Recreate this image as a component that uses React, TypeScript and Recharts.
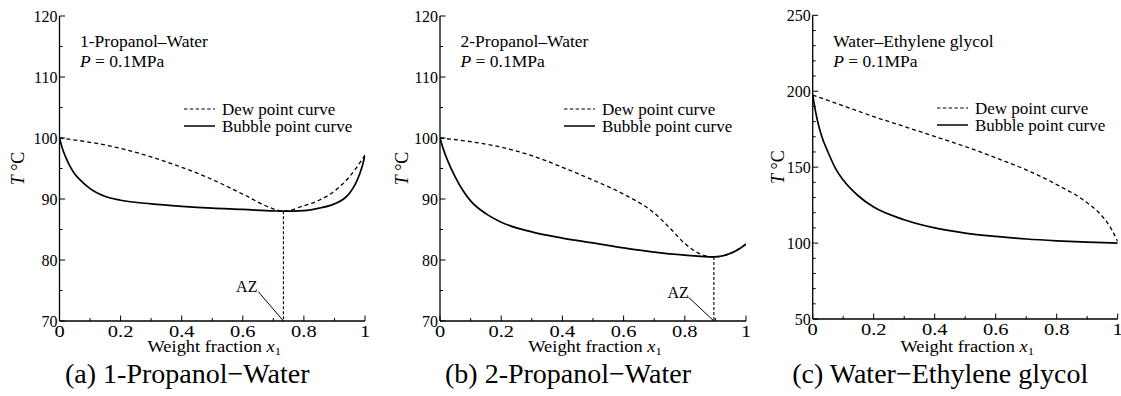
import React from 'react';
import { LineChart, Line, XAxis, YAxis, ReferenceLine, ReferenceDot, Legend } from 'recharts';

const FONT = '"Liberation Serif", "Times New Roman", serif';

// ---- ticks ----
const X_TICKS = [0, 0.1, 0.2, 0.3, 0.4, 0.5, 0.6, 0.7, 0.8, 0.9, 1];
const Y_TICKS_PROPANOL = [70, 75, 80, 85, 90, 95, 100, 105, 110, 115, 120];
const Y_TICKS_GLYCOL = [50, 60, 70, 80, 90, 100, 110, 120, 130, 140, 150, 160, 170, 180, 190, 200, 210, 220, 230, 240, 250];

// ---- (a) 1-Propanol–Water ----
const A_BUBBLE = [
  { x: 0, T: 100 }, { x: 0.01, T: 98.2 }, { x: 0.02, T: 96.9 }, { x: 0.035, T: 95.3 },
  { x: 0.05, T: 94.1 }, { x: 0.07, T: 93.0 }, { x: 0.1, T: 91.7 }, { x: 0.15, T: 90.4 },
  { x: 0.2, T: 89.8 }, { x: 0.3, T: 89.2 }, { x: 0.4, T: 88.8 }, { x: 0.5, T: 88.5 },
  { x: 0.6, T: 88.3 }, { x: 0.7, T: 88.05 }, { x: 0.733, T: 88.0 }, { x: 0.8, T: 88.1 },
  { x: 0.85, T: 88.5 }, { x: 0.9, T: 89.2 }, { x: 0.93, T: 90.0 }, { x: 0.95, T: 91.0 },
  { x: 0.97, T: 92.6 }, { x: 0.99, T: 95.2 }, { x: 1, T: 97.2 },
];
const A_DEW = [
  { x: 0, T: 100 }, { x: 0.1, T: 99.3 }, { x: 0.2, T: 98.3 }, { x: 0.3, T: 96.9 },
  { x: 0.4, T: 95.2 }, { x: 0.5, T: 93.2 }, { x: 0.6, T: 90.8 }, { x: 0.7, T: 88.4 },
  { x: 0.733, T: 88.0 }, { x: 0.8, T: 88.9 }, { x: 0.85, T: 89.8 }, { x: 0.9, T: 91.3 },
  { x: 0.95, T: 93.7 }, { x: 1, T: 97.2 },
];
const A_AZ = { x: 0.733, T: 88.0, labelX: 0.613, labelT: 75.7, leaderX: 0.651, leaderT: 74.8 };

// ---- (b) 2-Propanol–Water ----
const B_BUBBLE = [
  { x: 0, T: 100 }, { x: 0.01, T: 98.3 }, { x: 0.025, T: 96.3 }, { x: 0.05, T: 93.6 },
  { x: 0.075, T: 91.4 }, { x: 0.1, T: 89.7 }, { x: 0.15, T: 87.6 }, { x: 0.2, T: 86.2 },
  { x: 0.3, T: 84.6 }, { x: 0.4, T: 83.6 }, { x: 0.5, T: 82.8 }, { x: 0.6, T: 82.0 },
  { x: 0.7, T: 81.3 }, { x: 0.8, T: 80.8 }, { x: 0.895, T: 80.5 }, { x: 0.95, T: 81.1 },
  { x: 0.98, T: 81.9 }, { x: 1, T: 82.6 },
];
const B_DEW = [
  { x: 0, T: 100 }, { x: 0.1, T: 99.4 }, { x: 0.2, T: 98.5 }, { x: 0.3, T: 97.1 },
  { x: 0.4, T: 95.2 }, { x: 0.5, T: 93.1 }, { x: 0.6, T: 90.8 }, { x: 0.7, T: 87.7 },
  { x: 0.75, T: 85.3 }, { x: 0.8, T: 82.7 }, { x: 0.85, T: 81.0 }, { x: 0.895, T: 80.5 },
  { x: 0.95, T: 81.1 }, { x: 0.98, T: 81.9 }, { x: 1, T: 82.6 },
];
const B_AZ = { x: 0.895, T: 80.5, labelX: 0.778, labelT: 74.7, leaderX: 0.812, leaderT: 73.9 };

// ---- (c) Water–Ethylene glycol ----
const C_BUBBLE = [
  { x: 0, T: 197.5 }, { x: 0.01, T: 186 }, { x: 0.02, T: 177 }, { x: 0.03, T: 170 },
  { x: 0.05, T: 160 }, { x: 0.075, T: 149 }, { x: 0.1, T: 141.5 }, { x: 0.15, T: 131 },
  { x: 0.2, T: 123.7 }, { x: 0.3, T: 115.4 }, { x: 0.4, T: 110 }, { x: 0.5, T: 106.6 },
  { x: 0.6, T: 104.4 }, { x: 0.7, T: 102.7 }, { x: 0.8, T: 101.5 }, { x: 0.9, T: 100.6 },
  { x: 1, T: 100 },
];
const C_DEW = [
  { x: 0, T: 197.5 }, { x: 0.1, T: 190.4 }, { x: 0.2, T: 183.3 }, { x: 0.3, T: 176.8 },
  { x: 0.4, T: 170.2 }, { x: 0.5, T: 163.6 }, { x: 0.6, T: 156.2 }, { x: 0.7, T: 148.2 },
  { x: 0.8, T: 138.5 }, { x: 0.9, T: 126.5 }, { x: 0.95, T: 117.5 }, { x: 0.98, T: 109 },
  { x: 1, T: 101 },
];

const LEGEND_LABELS = ['Dew point curve', 'Bubble point curve'];

type Pt = { x: number; T: number };
type AZ = { x: number; T: number; labelX: number; labelT: number; leaderX: number; leaderT: number };
type Panel = {
  left: number; width: number; plotLeft: number; plotRight: number; plotTop: number; plotBottom: number;
  yDomain: [number, number]; yTicks: number[]; yMajor: number;
  bubble: Pt[]; dew: Pt[]; az?: AZ;
  system: string; caption: string; yTitleX: number;
};

const PANELS: Panel[] = [
  {
    left: 0, width: 375, plotLeft: 59.5, plotRight: 365, plotTop: 16, plotBottom: 321,
    yDomain: [70, 120], yTicks: Y_TICKS_PROPANOL, yMajor: 10,
    bubble: A_BUBBLE, dew: A_DEW, az: A_AZ,
    system: '1-Propanol\u2013Water', caption: '(a) 1-Propanol\u2212Water', yTitleX: 18,
  },
  {
    left: 375, width: 375, plotLeft: 440, plotRight: 746, plotTop: 16, plotBottom: 321,
    yDomain: [70, 120], yTicks: Y_TICKS_PROPANOL, yMajor: 10,
    bubble: B_BUBBLE, dew: B_DEW, az: B_AZ,
    system: '2-Propanol\u2013Water', caption: '(b) 2-Propanol\u2212Water', yTitleX: 401.5,
  },
  {
    left: 750, width: 371, plotLeft: 812.7, plotRight: 1117.7, plotTop: 15.3, plotBottom: 319,
    yDomain: [50, 250], yTicks: Y_TICKS_GLYCOL, yMajor: 50,
    bubble: C_BUBBLE, dew: C_DEW,
    system: 'Water\u2013Ethylene glycol', caption: '(c) Water\u2212Ethylene glycol', yTitleX: 778,
  },
];

const Y_AXIS_W = 40;
const X_AXIS_H = 30;

const fmtX = (v: number) => (v === 0 ? '0' : v === 1 ? '1' : v.toFixed(1));

function makeTick(side: 'bottom' | 'top' | 'left' | 'right', isMajor: (v: number) => boolean, showLabel: boolean, fmt: (v: number) => string) {
  return (props: any) => {
    const { x, y, payload } = props;
    const v = payload.value as number;
    const major = isMajor(v);
    const L = major ? 5.5 : 3;
    let x2 = x, y2 = y;
    if (side === 'bottom') y2 = y - L;
    if (side === 'top') y2 = y + L;
    if (side === 'left') x2 = x + L;
    if (side === 'right') x2 = x - L;
    return (
      <g>
        <line x1={x} y1={y} x2={x2} y2={y2} stroke="#000" strokeWidth={1} />
        {showLabel && major && side === 'bottom' && (
          <text transform={`translate(${x}, ${y + 15.5}) scale(1.28, 1)`} textAnchor="middle" fontFamily={FONT} fontSize={16} fill="#000">{fmt(v)}</text>
        )}
        {showLabel && major && side === 'left' && (
          <text x={x - 2} y={y + 5.5} textAnchor="end" fontFamily={FONT} fontSize={16} fill="#000">{fmt(v)}</text>
        )}
      </g>
    );
  };
}

const xMajor = (v: number) => Math.round(v * 10) % 2 === 0;

const LegendContent = () => (
  <svg width={180} height={36} style={{ display: 'block', overflow: 'visible' }}>
    <line x1={0} x2={31} y1={8} y2={8} stroke="#000" strokeWidth={1.1} strokeDasharray="3.5 2.3" />
    <text x={38} y={14} fontFamily={FONT} fontSize={17} fill="#000">{LEGEND_LABELS[0]}</text>
    <line x1={0} x2={31} y1={25} y2={25} stroke="#000" strokeWidth={1.5} />
    <text x={38} y={31} fontFamily={FONT} fontSize={17} fill="#000">{LEGEND_LABELS[1]}</text>
  </svg>
);

function PanelChart({ p }: { p: Panel }) {
  const relLeft = p.plotLeft - p.left;
  const relRight = p.plotRight - p.left;
  const margin = {
    top: p.plotTop,
    right: p.width - relRight,
    bottom: 396 - p.plotBottom - X_AXIS_H,
    left: relLeft - Y_AXIS_W,
  };
  const yMajor = (v: number) => v % p.yMajor === 0;
  const fmtY = (v: number) => String(v);
  const plotCx = (relLeft + relRight) / 2;
  const plotCy = (p.plotTop + p.plotBottom) / 2;
  return (
    <div style={{ position: 'absolute', left: p.left, top: 0, width: p.width, height: 396 }}>
      <LineChart width={p.width} height={396} margin={margin}>
        <XAxis xAxisId="b" dataKey="x" type="number" domain={[0, 1]} ticks={X_TICKS} interval={0}
          orientation="bottom" height={X_AXIS_H} tickSize={0} tickMargin={0} tickLine={false}
          axisLine={{ stroke: '#000', strokeWidth: 1.3 }} allowDataOverflow
          tick={makeTick('bottom', xMajor, true, fmtX)} />
        <XAxis xAxisId="t" dataKey="x" type="number" domain={[0, 1]} ticks={X_TICKS} interval={0}
          orientation="top" height={0} tickSize={0} tickMargin={0} tickLine={false}
          axisLine={{ stroke: '#000', strokeWidth: 1.3 }} allowDataOverflow
          tick={makeTick('top', xMajor, false, fmtX)} />
        <YAxis yAxisId="l" type="number" domain={p.yDomain} ticks={p.yTicks} interval={0}
          orientation="left" width={Y_AXIS_W} tickSize={0} tickMargin={0} tickLine={false}
          axisLine={{ stroke: '#000', strokeWidth: 1.3 }} allowDataOverflow
          tick={makeTick('left', yMajor, true, fmtY)} />
        <YAxis yAxisId="r" type="number" domain={p.yDomain} ticks={p.yTicks} interval={0}
          orientation="right" width={0} tickSize={0} tickMargin={0} tickLine={false}
          axisLine={{ stroke: '#000', strokeWidth: 1.3 }} allowDataOverflow
          tick={makeTick('right', yMajor, false, fmtY)} />
        <Line xAxisId="b" yAxisId="l" data={p.dew} dataKey="T" type="monotone" stroke="#000"
          strokeWidth={1.3} strokeDasharray="4 3" dot={false} activeDot={false} isAnimationActive={false} />
        <Line xAxisId="b" yAxisId="l" data={p.bubble} dataKey="T" type="monotone" stroke="#000"
          strokeWidth={1.7} dot={false} activeDot={false} isAnimationActive={false} />
        {p.az && (
          <ReferenceLine xAxisId="b" yAxisId="l" segment={[{ x: p.az.x, y: p.az.T }, { x: p.az.x, y: p.yDomain[0] }]}
            stroke="#000" strokeWidth={1.1} strokeDasharray="3 2" ifOverflow="visible" />
        )}
        {p.az && (
          <ReferenceLine xAxisId="b" yAxisId="l" segment={[{ x: p.az.leaderX, y: p.az.leaderT }, { x: p.az.x, y: p.yDomain[0] }]}
            stroke="#000" strokeWidth={1} ifOverflow="visible" />
        )}
        {p.az && (
          <ReferenceDot xAxisId="b" yAxisId="l" x={p.az.labelX} y={p.az.labelT} r={0} fill="none" stroke="none"
            ifOverflow="visible"
            label={{ value: 'AZ', position: 'center', fill: '#000', fontSize: 16, fontFamily: FONT }} />
        )}
        <Legend layout="vertical" align="center" verticalAlign="middle" content={<LegendContent />}
          wrapperStyle={{ position: 'absolute', left: relLeft + 124, top: p.plotTop + 85, width: 180, height: 36 }} />
      </LineChart>
      <svg width={p.width} height={396} style={{ position: 'absolute', left: 0, top: 0, pointerEvents: 'none', overflow: 'visible' }}>
        <text x={relLeft + 20.5} y={47} fontFamily={FONT} fontSize={17.5} fill="#000">{p.system}</text>
        <text x={relLeft + 20.5} y={67} fontFamily={FONT} fontSize={17.5} fill="#000">
          <tspan fontStyle="italic">P</tspan> = 0.1MPa
        </text>
        <text transform={`translate(${p.yTitleX - p.left}, ${plotCy}) rotate(-90)`} textAnchor="middle" dy="0.35em"
          fontFamily={FONT} fontSize={18} fill="#000">
          <tspan fontStyle="italic">T</tspan> °C
        </text>
        <text transform={`translate(${plotCx + 2}, 352) scale(1.15, 1)`} textAnchor="middle" fontFamily={FONT} fontSize={16} fill="#000">
          Weight fraction  <tspan fontStyle="italic">x</tspan><tspan fontSize={11} dy={3}>1</tspan>
        </text>
        <text x={plotCx - 25} y={383} textAnchor="middle" fontFamily={FONT} fontSize={28} fill="#000">{p.caption}</text>
      </svg>
    </div>
  );
}

export default function App() {
  return (
    <div style={{ position: 'absolute', left: 0, top: 0, width: 1121, height: 396, background: '#fff', overflow: 'hidden' }}>
      {PANELS.map((p, i) => <PanelChart key={i} p={p} />)}
    </div>
  );
}
